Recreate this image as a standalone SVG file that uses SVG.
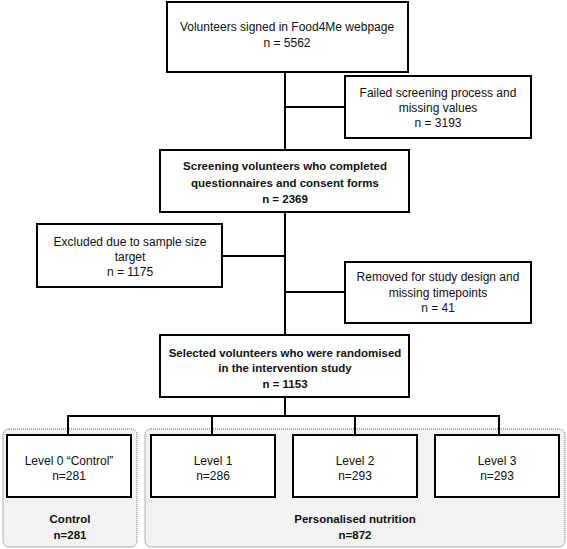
<svg xmlns="http://www.w3.org/2000/svg" width="567" height="549" viewBox="0 0 567 549">
<style>
.box{fill:#fff;stroke:#000;stroke-width:2}
.grp{fill:#f2f2f2;stroke:#666;stroke-width:1;stroke-dasharray:1 1}
.t{font-family:"Liberation Sans",Arial,sans-serif;font-size:12px;text-anchor:middle;fill:#111}
.b{font-weight:bold;font-size:11.5px}
.c{fill:none;stroke:#000;stroke-width:2}
</style>
<rect width="567" height="549" fill="#fff"/>
<g id="group-control"><rect class="grp" x="3" y="429" width="134" height="118" rx="6"/>
<text class="t b" x="70" y="523">Control</text><text class="t b" x="70" y="539">n=281</text></g>
<g id="group-personalised"><rect class="grp" x="145" y="429" width="420" height="118" rx="6"/>
<text class="t b" x="355" y="523">Personalised nutrition</text><text class="t b" x="355" y="539">n=872</text></g>
<g id="connectors">
<path class="c" d="M285 72V415M285 107H345M222 256H285M285 292H345"/>
<path class="c" d="M68 435V416H499V435M212 416V435M355 416V435"/>
</g>
<g id="n1"><rect class="box" x="167" y="2" width="241" height="70"/>
<text class="t" x="287" y="31">Volunteers signed in Food4Me webpage</text><text class="t" x="287" y="47">n = 5562</text></g>
<g id="n2"><rect class="box" x="345" y="76" width="186" height="62"/>
<text class="t" x="438" y="97">Failed screening process and</text><text class="t" x="438" y="112">missing values</text><text class="t" x="438" y="127">n = 3193</text></g>
<g id="n3"><rect class="box" x="160" y="150" width="249" height="62"/>
<text class="t b" x="285" y="170">Screening volunteers who completed</text><text class="t b" x="285" y="187">questionnaires and consent forms</text><text class="t b" x="285" y="203">n = 2369</text></g>
<g id="n4"><rect class="box" x="37" y="224" width="185" height="63"/>
<text class="t" x="130" y="246">Excluded due to sample size</text><text class="t" x="130" y="261">target</text><text class="t" x="130" y="276">n = 1175</text></g>
<g id="n5"><rect class="box" x="345" y="262" width="186" height="61"/>
<text class="t" x="438" y="281">Removed for study design and</text><text class="t" x="438" y="297">missing timepoints</text><text class="t" x="438" y="312">n = 41</text></g>
<g id="n6"><rect class="box" x="160" y="335" width="249" height="62"/>
<text class="t b" x="285" y="357">Selected volunteers who were randomised</text><text class="t b" x="285" y="372">in the intervention study</text><text class="t b" x="285" y="388">n = 1153</text></g>
<g id="l0"><rect class="box" x="7" y="435" width="124" height="62"/>
<text class="t" x="69" y="465">Level 0 “Control”</text><text class="t" x="69" y="480">n=281</text></g>
<g id="l1"><rect class="box" x="151" y="435" width="124" height="62"/>
<text class="t" x="213" y="465">Level 1</text><text class="t" x="213" y="480">n=286</text></g>
<g id="l2"><rect class="box" x="293" y="435" width="124" height="62"/>
<text class="t" x="355" y="465">Level 2</text><text class="t" x="355" y="480">n=293</text></g>
<g id="l3"><rect class="box" x="435" y="435" width="124" height="62"/>
<text class="t" x="497" y="465">Level 3</text><text class="t" x="497" y="480">n=293</text></g>
</svg>
